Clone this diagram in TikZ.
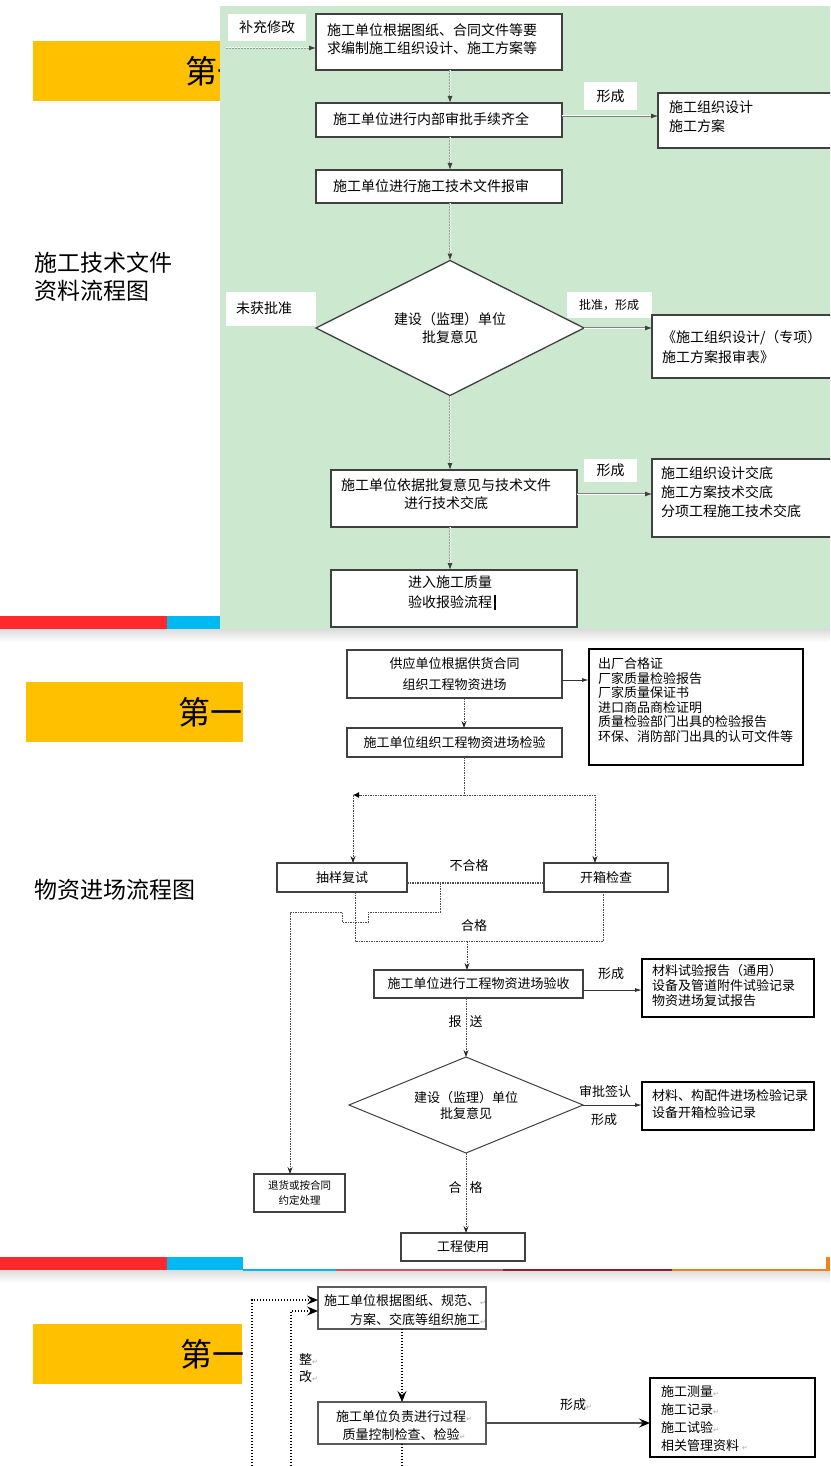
\documentclass[tikz,border=0pt]{standalone}
\usepackage{fontspec}
\setmainfont{Noto Sans CJK SC}
\newfontfamily\symf{DejaVu Sans}
\usetikzlibrary{arrows.meta,shapes.geometric}
\definecolor{pyel}{RGB}{255,192,0}
\definecolor{pgreen}{RGB}{204,232,207}
\definecolor{pred}{RGB}{255,40,45}
\definecolor{pblue}{RGB}{0,185,240}
\definecolor{pdred}{RGB}{150,30,40}
\definecolor{ppink}{RGB}{220,80,90}
\definecolor{porange}{RGB}{240,130,30}
\newcommand\retm{{\symf\color{black!35}\fontsize{7}{7}\selectfont ↵}}
\begin{document}
\begin{tikzpicture}[x=1pt,y=-1pt,
  every node/.style={inner sep=0pt,outer sep=0pt},
  bx/.style={draw=black!75,line width=1.1pt,fill=white,anchor=north west},
  tbx/.style={draw=black,line width=2.4pt,fill=white,anchor=north west},
  gbx/.style={draw=black!65,line width=1.6pt,fill=white,anchor=north west},
  wl/.style={fill=white,anchor=north west},
  fa/.style={font=\fontsize{14}{#1}\selectfont},
  fa/.default=18,
  fb/.style={font=\fontsize{13}{#1}\selectfont},
  fb/.default=16,
  big/.style={font=\fontsize{32}{32}\selectfont},
  ttl/.style={font=\fontsize{23}{28}\selectfont,anchor=west,align=left},
  garr/.style={draw=black!40,line width=0.9pt,double=white,double distance=1pt,dash pattern=on 2pt off 1pt,-{Latex[length=7pt,width=5pt,color=black!75]}},
  harr/.style={draw=black!50,line width=0.8pt,double=white,double distance=1pt,-{Latex[length=7pt,width=5pt,color=black!75]}},
  dl/.style={draw=black!70,line width=0.8pt,dash pattern=on 1.5pt off 1pt},
  ytip/.style={-{Stealth[length=7pt,width=5pt,inset=2.5pt,color=black!85]}},
  ltip/.style={-{Latex[length=6pt,width=6pt,color=black]}},
  sarr/.style={draw=black!80,line width=0.9pt,-{Latex[length=7pt,width=4pt]}},
  dt3/.style={draw=black,line width=1.2pt,dash pattern=on 1.2pt off 1.8pt},
  tip3/.style={-{Stealth[length=11pt,width=9pt,inset=4pt,color=black]}},
  sarr3/.style={draw=black!70,line width=1.2pt,-{Stealth[length=11pt,width=9pt,inset=4pt,color=black]}}
]
\useasboundingbox (0,0) rectangle (830,1466);
\clip (0,0) rectangle (830,1466);
\fill[white] (0,0) rectangle (830,1466);

% ================= panel 1 =================
\fill[pyel] (33,41) rectangle (220,101);
\node[big,anchor=west] (t1) at (185,71) {第一};
\fill[pgreen] (220,6) rectangle (830,629);
\node[ttl] (n1) at (34,277) {施工技术文件\\资料流程图};
\fill[pred] (0,616) rectangle (167,629);
\fill[pblue] (167,616) rectangle (220,629);
\shade[top color=black!14,bottom color=white] (0,629) rectangle (830,642);

\node[bx,minimum width=246,minimum height=56] (b1) at (316,14) {};
\node[fa,anchor=west,align=left] (b1t) at (327,39) {施工单位根据图纸、合同文件等要\\求编制施工组织设计、施工方案等};
\node[wl,fa,minimum width=78,minimum height=27] (l1) at (228,14) {补充修改};
\coordinate (c1) at (226,48);
\draw[garr] (c1) -- (c1 -| b1.west);

\node[bx,minimum width=246,minimum height=34] (b2) at (316,103) {};
\node[fa,anchor=west] (b2t) at (333,119) {施工单位进行内部审批手续齐全};
\node[bx,minimum width=246,minimum height=33] (b3) at (316,170) {};
\node[fa,anchor=west] (b3t) at (333,186) {施工单位进行施工技术文件报审};
\coordinate (x1) at (450,0);
\draw[garr] (b1.south -| x1) -- (b2.north -| x1);
\draw[garr] (b2.south -| x1) -- (b3.north -| x1);

\node[diamond,aspect=2,draw=black!75,line width=1.3pt,fill=white,minimum width=268,minimum height=135,fa,align=center] (d1) at (450,328) {建设（监理）单位\\批复意见};
\draw[garr] (b3.south -| x1) -- (d1.north);

\node[wl,fa,minimum width=53,minimum height=28] (l2) at (584,82) {形成};
\node[bx,minimum width=185,minimum height=55] (b4) at (658,93) {};
\node[fa=19,anchor=west,align=left] (b4t) at (669,117) {施工组织设计\\施工方案};
\coordinate (y2) at (0,116);
\draw[harr] (b2.east |- y2) -- (b4.west |- y2);

\node[wl,minimum width=90,minimum height=34] (l3) at (226,292) {};
\node[fa,anchor=west] (l3t) at (236,308) {未获批准};
\node[wl,minimum width=85,minimum height=26] (l4) at (567,292) {};
\node[font=\fontsize{12}{12}\selectfont] (l4t) at (609,305) {批准，形成};
\node[bx,minimum width=185,minimum height=63] (b5) at (652,315) {};
\node[fa=20,anchor=west,align=left] (b5t) at (662,347) {《施工组织设计/（专项）\\施工方案报审表》};
\draw[harr] (d1.east) -- (b5.west |- d1.east);

\node[bx,minimum width=246,minimum height=57] (b6) at (331,470) {};
\node[fa,align=center] (b6t) at (446,494) {施工单位依据批复意见与技术文件\\进行技术交底};
\draw[garr] (d1.south) -- (b6.north -| d1.south);
\node[wl,fa,minimum width=53,minimum height=23] (l5) at (584,459) {形成};
\node[bx,minimum width=185,minimum height=78] (b7) at (652,459) {};
\node[fa=19,anchor=west,align=left] (b7t) at (661,492) {施工组织设计交底\\施工方案技术交底\\分项工程施工技术交底};
\coordinate (y7) at (0,494);
\draw[harr] (b6.east |- y7) -- (b7.west |- y7);

\node[bx,minimum width=246,minimum height=57] (b8) at (331,570) {};
\node[fa=20,align=center] (b8t) at (450,592) {进入施工质量\\验收报验流程};
\draw[line width=1.6pt] (495,595) -- (495,610);
\draw[garr] (b6.south -| x1) -- (b8.north -| x1);

% ================= panel 2 =================
\fill[pyel] (26,682) rectangle (243,742);
\node[big,anchor=west] (t2) at (178,712) {第一};
\node[ttl] (n2) at (34,890) {物资进场流程图};

\node[bx,fb=21,align=center,minimum width=215,minimum height=48] (A) at (347,650) {供应单位根据供货合同\\组织工程物资进场};
\node[bx,fb,minimum width=215,minimum height=29] (B) at (347,728) {施工单位组织工程物资进场检验};
\node[tbx,minimum width=214,minimum height=116] (C) at (589,649) {};
\node[fb=14.6,anchor=west,align=left] (Ct) at (598,700) {出厂合格证\\厂家质量检验报告\\厂家质量保证书\\进口商品商检证明\\质量检验部门出具的检验报告\\环保、消防部门出具的认可文件等};
\coordinate (xa) at (464,0);
\draw[dl,ytip] (A.south -| xa) -- (B.north -| xa);
\coordinate (ya) at (0,680);
\draw[sarr] (A.east |- ya) -- (C.west |- ya);

\node[bx,fb,minimum width=130,minimum height=29] (S1) at (277,863) {抽样复试};
\node[bx,fb,minimum width=124,minimum height=29] (S2) at (544,863) {开箱检查};
\coordinate (j1) at (464,795);
\coordinate (cL) at (353,795);
\coordinate (cR) at (595,795);
\draw[dl] (B.south -| j1) -- (j1);
\draw[dl,ltip] (j1) -- (cL);
\draw[dl,ytip] (cL) -- (S1.north -| cL);
\draw[dl,ytip] (j1) -- (cR) -- (S2.north -| cR);

\coordinate (ym) at (0,883);
\draw[dl,line width=1.3pt] (S1.east |- ym) -- (S2.west |- ym);
\node[fb] (bh) at (469,866) {不合格};

\node[bx,font=\fontsize{10.5}{15}\selectfont,align=center,minimum width=91,minimum height=38] (R) at (254,1174) {退货或按合同\\约定处理};
\coordinate (k1) at (440,883);
\coordinate (k2) at (290,912);
\draw[dl,ytip] (k1) -- ++(0,29) -- ++(-72,0) -- ++(0,10) -- ++(-26,0) -- ++(0,-10) -- (k2) -- (R.north -| k2);

\coordinate (g1) at (355,941);
\coordinate (g2) at (603,941);
\coordinate (g3) at (467,941);
\draw[dl] (S1.south -| g1) -- (g1) -- (g2) -- (S2.south -| g2);
\node[fb] (hg) at (474,926) {合格};
\node[bx,fb,minimum width=209,minimum height=28] (D) at (374,970) {施工单位进行工程物资进场验收};
\draw[dl,ytip] (g3) -- (D.north -| g3);

\node[tbx,minimum width=172,minimum height=58] (E) at (642,959) {};
\node[fb=15,anchor=west,align=left] (Et) at (652,986) {材料试验报告（通用）\\设备及管道附件试验记录\\物资进场复试报告};
\coordinate (yd) at (0,990);
\draw[sarr] (D.east |- yd) -- (E.west |- yd);
\node[fb] (xc1) at (611,974) {形成};

\node[diamond,aspect=2.4,draw=black!75,line width=1pt,fill=white,minimum width=234,minimum height=96,fb,align=center] (d2) at (466,1105) {建设（监理）单位\\批复意见};
\coordinate (xd) at (466,0);
\draw[dl,ytip] (D.south -| xd) -- (d2.north);
\node[fb] (bs1) at (455,1022) {报};
\node[fb] (bs2) at (476,1022) {送};

\node[tbx,minimum width=172,minimum height=48] (F) at (642,1082) {};
\node[fb=17,anchor=west,align=left] (Ft) at (652,1104) {材料、构配件进场检验记录\\设备开箱检验记录};
\draw[sarr] (d2.east) -- (F.west |- d2.east);
\node[fb] (sp) at (605,1092) {审批签认};
\node[fb] (xc2) at (604,1120) {形成};

\node[bx,fb,minimum width=124,minimum height=28] (U) at (401,1233) {工程使用};
\draw[dl,ytip] (d2.south) -- (U.north -| d2.south);
\node[fb] (hg1) at (455,1188) {合};
\node[fb] (hg2) at (476,1188) {格};

\fill[pred] (0,1257) rectangle (167,1270);
\fill[pblue] (167,1257) rectangle (243,1270);
\shade[top color=black!14,bottom color=white] (0,1270) rectangle (830,1283);
\fill[pblue] (243,1268.5) rectangle (336,1270.5);
\fill[ppink] (336,1268.5) rectangle (503,1270.5);
\fill[pdred] (503,1268.5) rectangle (672,1270.5);
\fill[porange] (672,1268.5) rectangle (830,1270.5);
\fill[porange] (826,1257) rectangle (830,1270);

% ================= panel 3 =================
\fill[pyel] (33,1324) rectangle (242,1384);
\node[big,anchor=west] (t3) at (180,1354) {第一};

\node[gbx,minimum width=168,minimum height=42] (G) at (318,1287) {};
\node[fb=19,anchor=east,align=right] (Gt) at (486,1310) {施工单位根据图纸、规范、\retm\\方案、交底等组织施工\retm};
\coordinate (o1) at (252,1472);
\coordinate (o2) at (291,1472);
\coordinate (p1) at (252,1300);
\coordinate (p2) at (291,1311);
\draw[dt3,tip3] (o1) -- (p1) -- (G.west |- p1);
\draw[dt3,tip3] (o2) -- (p2) -- (G.west |- p2);

\node[gbx,minimum width=168,minimum height=42] (H) at (318,1402) {};
\node[fb=18,align=center] (Ht) at (404,1425) {施工单位负责进行过程\retm\\质量控制检查、检验\retm};
\draw[dt3,tip3] (G.south) -- (H.north);
\coordinate (o3) at (403,1472);
\draw[dt3] (H.south) -- (H.south |- o3);
\node[fb,anchor=west] (zg1) at (299,1359) {整\retm};
\node[fb,anchor=west] (zg2) at (299,1377) {改\retm};

\node[tbx,minimum width=165,minimum height=79] (I) at (650,1378) {};
\node[fb=18,anchor=west,align=left] (It) at (661,1419) {施工测量\retm\\施工记录\retm\\施工试验\retm\\相关管理资料 \retm};
\draw[sarr3] (H.east) -- (I.west |- H.east);
\node[fb] (xc3) at (576,1405) {形成\retm};
\end{tikzpicture}
\end{document}
